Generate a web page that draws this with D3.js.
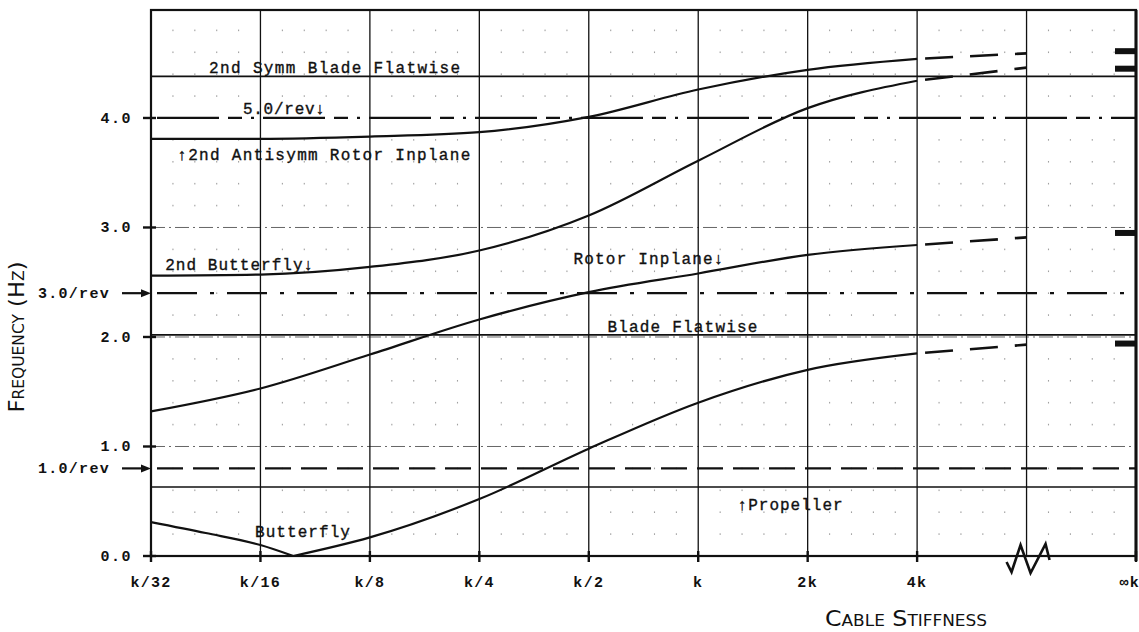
<!DOCTYPE html>
<html lang="en">
<head>
  <meta charset="utf-8">
  <title>Frequency vs cable stiffness</title>
  <style>
    body { margin: 0; background: #fff; }
    svg { display: block; }
    .mono { font-family: "Liberation Mono", "DejaVu Sans Mono", monospace; fill: #111; }
    .title { font-family: "DejaVu Sans Condensed", "DejaVu Sans", sans-serif; font-variant: small-caps; fill: #111; }
  </style>
</head>
<body>
<svg id="chart" width="1139" height="632"></svg>

<script src="https://cdn.jsdelivr.net/npm/d3@7/dist/d3.min.js"></script>
<script>

// x axis is one step per doubling of cable stiffness, plus a break before infinity
const stiffness = ["k/32", "k/16", "k/8", "k/4", "k/2", "k", "2k", "4k", "", "∞k"];
const freqTicks = [0, 1, 2, 3, 4];

// coupled modes, read at k/32 ... 4k
const antisymm2 = [3.81, 3.81, 3.83, 3.87, 4.01, 4.26, 4.44, 4.54];
const butterfly2 = [2.56, 2.57, 2.64, 2.79, 3.11, 3.61, 4.09, 4.34];
const rotorInplane = [1.32, 1.53, 1.84, 2.16, 2.41, 2.58, 2.75, 2.84];
const butterflyDown = [[0, 0.31], [0.5, 0.21], [1, 0.10], [1.3, 0]];
const butterflyUp = [[1.3, 0], [2, 0.17], [3, 0.52], [4, 0.98], [5, 1.40], [6, 1.70], [7, 1.85]];

// dashed extrapolation to the break, and the values at infinite stiffness
const extrapolated = [4.59, 4.46, 2.91, 1.93];
const atInfinity = [4.61, 4.45, 2.95, 1.94];

// uncoupled modes (flat) and per-rev excitation lines
const flatLevels = [4.38, 2.02, 0.63];
const revLevels = [4.0, 2.40, 0.80];
const revNames = ["5.0/rev", "3.0/rev", "1.0/rev"];

const labels = [
  {text: "2nd Symm Blade Flatwise", x: 0.53, f: 4.41, w: 251},
  {text: "5.0/rev\u2193", x: 0.84, f: 4.04, w: 82},
  {text: "\u21912nd Antisymm Rotor Inplane", x: 0.24, f: 3.62, w: 293},
  {text: "2nd Butterfly\u2193", x: 0.13, f: 2.61, w: 148},
  {text: "Rotor Inplane\u2193", x: 3.86, f: 2.67, w: 150},
  {text: "Blade Flatwise", x: 4.17, f: 2.05, w: 150},
  {text: "\u2191Propeller", x: 5.36, f: 0.42, w: 105},
  {text: "Butterfly", x: 0.95, f: 0.17, w: 95}
];

const ink = "#111";
let svg = d3.select("#chart");

let x = d3.scaleLinear().domain([0, 9]).range([151, 1136]);
let y = d3.scaleLinear().domain([0, 4.986]).range([556, 10]);

let line = d3.line()
  .x(function(d) { return x(d[0]) })
  .y(function(d) { return y(d[1]) })
  .curve(d3.curveMonotoneX);

function indexed(arr) { return arr.map(function(v, i) { return [i, v] }) }

// dot grid of the graph paper
let dots = [];
for (let i = 1; i < 45; i++) {
  for (let j = 1; j < 25; j++) {
    if (i % 5 == 0 || j % 5 == 0) continue;
    dots.push([i / 5, j * 0.2]);
  }
}
svg.append("g").selectAll("rect").data(dots)
  .enter().append("rect")
    .attr("x", function(d) { return x(d[0]) - 0.5 })
    .attr("y", function(d) { return y(d[1]) - 0.8 })
    .attr("width", 1.1).attr("height", 1.6)
    .attr("fill", "#a0a0a0");

// faint dash-dot horizontal grid
svg.append("g").selectAll("line").data([1, 2, 3])
  .enter().append("line")
    .attr("x1", x(0)).attr("x2", x(9))
    .attr("y1", function(d) { return y(d) }).attr("y2", function(d) { return y(d) })
    .attr("stroke", "#555").attr("stroke-width", 0.9)
    .attr("stroke-dasharray", "14,4,2,4");

// vertical grid lines
svg.append("g").selectAll("line").data(d3.range(1, 9))
  .enter().append("line")
    .attr("x1", function(d) { return x(d) }).attr("x2", function(d) { return x(d) })
    .attr("y1", y.range()[1]).attr("y2", y(0))
    .attr("stroke", ink).attr("stroke-width", 1.3);

// flat uncoupled modes
svg.append("g").selectAll("line").data(flatLevels)
  .enter().append("line")
    .attr("x1", x(0)).attr("x2", x(9))
    .attr("y1", function(d) { return y(d) }).attr("y2", function(d) { return y(d) })
    .attr("stroke", ink).attr("stroke-width", 1.7);

// per-rev lines
const revDash = ["62,9,14,9,3,9", "40,13,4,13", "26,10"];
svg.append("g").selectAll("line").data(revLevels)
  .enter().append("line")
    .attr("x1", x(0) + 6).attr("x2", x(9))
    .attr("y1", function(d) { return y(d) }).attr("y2", function(d) { return y(d) })
    .attr("stroke", ink).attr("stroke-width", 2.3)
    .attr("stroke-dasharray", function(d, i) { return revDash[i] });

// curves
let curves = [indexed(antisymm2), indexed(butterfly2), indexed(rotorInplane), butterflyDown, butterflyUp];
svg.append("g").selectAll("path").data(curves)
  .enter().append("path")
    .attr("d", line)
    .attr("fill", "none").attr("stroke", ink).attr("stroke-width", 2.2);

let lastSolid = [antisymm2[7], butterfly2[7], rotorInplane[7], butterflyUp[6][1]];
svg.append("g").selectAll("path").data(extrapolated)
  .enter().append("path")
    .attr("d", function(d, i) { return line([[7, lastSolid[i]], [8, d]]) })
    .attr("fill", "none").attr("stroke", ink).attr("stroke-width", 2.6)
    .attr("stroke-dasharray", "0,8,28,9");

// bars at infinite stiffness
svg.append("g").selectAll("rect").data(atInfinity)
  .enter().append("rect")
    .attr("x", x(9) - 21).attr("width", 21)
    .attr("y", function(d) { return y(d) - 3 }).attr("height", 6)
    .attr("fill", ink);

// frame
svg.append("rect")
  .attr("x", x(0)).attr("y", y.range()[1])
  .attr("width", x(9) - x(0)).attr("height", y(0) - y.range()[1])
  .attr("fill", "none").attr("stroke", ink).attr("stroke-width", 2.2);
svg.append("line")
  .attr("x1", x(9)).attr("x2", x(9)).attr("y1", y.range()[1]).attr("y2", y(0) + 5)
  .attr("stroke", ink).attr("stroke-width", 3);

// axis break zigzag
let zig = [[-20, 6], [-15, 16], [-6, -11], [4, 17], [19, -12], [23, 4]];
svg.append("path")
  .attr("d", d3.line()(zig.map(function(p) { return [x(8) + p[0], y(0) + p[1]] })))
  .attr("fill", "none").attr("stroke", ink).attr("stroke-width", 2.6)
  .attr("stroke-linejoin", "miter");

// x ticks and labels
let xt = svg.append("g").selectAll("g").data(stiffness)
  .enter().filter(function(d) { return d != "" }).append("g")
    .attr("transform", function(d, i) { return "translate(" + x(stiffness.indexOf(d)) + "," + y(0) + ")" });
xt.append("line").attr("y1", -5).attr("y2", 6).attr("stroke", ink).attr("stroke-width", 2.4);
xt.append("text")
  .attr("class", "mono")
  .attr("y", 31)
  .attr("text-anchor", function(d) { return d == "∞k" ? "end" : "middle" })
  .attr("dx", function(d) { return d == "∞k" ? 4 : 0 })
  .style("font-size", "15px").style("font-weight", "bold").style("letter-spacing", "1.3px")
  .text(function(d) { return d });

// y ticks and labels
let yt = svg.append("g").selectAll("g").data(freqTicks)
  .enter().append("g")
    .attr("transform", function(d) { return "translate(" + x(0) + "," + y(d) + ")" });
yt.append("line").attr("x1", -8).attr("x2", 5).attr("stroke", ink).attr("stroke-width", 2.4);
yt.append("text")
  .attr("class", "mono")
  .attr("x", -19).attr("y", 5)
  .attr("text-anchor", "end")
  .style("font-size", "15px").style("font-weight", "bold").style("letter-spacing", "1.5px")
  .text(function(d) { return d.toFixed(1) });

// rev labels with arrows on the left axis (5.0/rev is labelled inside)
let ra = svg.append("g").selectAll("g").data(revLevels.slice(1))
  .enter().append("g")
    .attr("transform", function(d) { return "translate(" + x(0) + "," + y(d) + ")" });
ra.append("line").attr("x1", -29).attr("x2", -8).attr("stroke", ink).attr("stroke-width", 2.2);
ra.append("path").attr("d", "M-10,-4L0,0L-10,4Z").attr("fill", ink);
ra.append("text")
  .attr("class", "mono")
  .attr("x", -41).attr("y", 5)
  .attr("text-anchor", "end")
  .style("font-size", "15px").style("font-weight", "bold").style("letter-spacing", "1.3px")
  .text(function(d, i) { return revNames[i + 1] });

// curve labels
svg.append("g").selectAll("text").data(labels)
  .enter().append("text")
    .attr("class", "mono")
    .attr("x", function(d) { return x(d.x) })
    .attr("y", function(d) { return y(d.f) })
    .attr("textLength", function(d) { return d.w })
    .attr("lengthAdjust", "spacing")
    .style("font-size", "16px")
    .style("stroke", ink).style("stroke-width", 0.35)
    .text(function(d) { return d.text });

// axis titles
svg.append("text")
  .attr("class", "title")
  .attr("transform", "translate(24,337) rotate(-90)")
  .attr("text-anchor", "middle")
  .attr("textLength", 151).attr("lengthAdjust", "spacingAndGlyphs")
  .style("font-size", "22px")
  .text("Frequency (Hz)");

svg.append("text")
  .attr("class", "title")
  .attr("x", 906).attr("y", 626)
  .attr("text-anchor", "middle")
  .attr("textLength", 162).attr("lengthAdjust", "spacingAndGlyphs")
  .style("font-size", "21px")
  .text("Cable Stiffness");

</script>
</body>
</html>
